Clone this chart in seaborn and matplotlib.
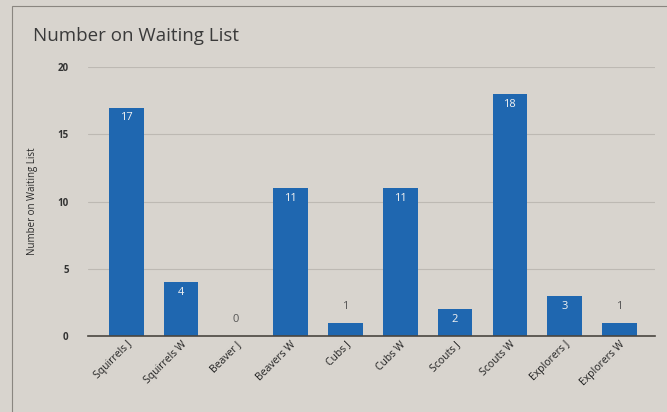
import pandas as pd
import numpy as np
import matplotlib.pyplot as plt
import seaborn as sns
from matplotlib.patches import Rectangle

# data
groups = ["Squirrels J", "Squirrels W", "Beaver J", "Beavers W", "Cubs J",
          "Cubs W", "Scouts J", "Scouts W", "Explorers J", "Explorers W"]
waiting = [17, 4, 0, 11, 1, 11, 2, 18, 3, 1]
y_ticks = [0, 5, 10, 15, 20]

df = pd.DataFrame({"group": groups, "waiting": waiting})

sns.set_theme(style="white")
plt.rcParams['font.family'] = ['Open Sans', 'DejaVu Sans']

paper = "#d8d4ce"
bar_col = "#1f67b0"

fig = plt.figure(figsize=(6.67, 4.12), dpi=100, facecolor=paper)
ax = fig.add_axes([0.132, 0.184, 0.85, 0.653], facecolor=paper)

# chart box border like the printed sheet
fig.patches.append(Rectangle((0.018, -0.05), 1.1, 1.035, transform=fig.transFigure,
                             fill=False, edgecolor="#8a8680", linewidth=0.8))

sns.barplot(data=df, x="group", y="waiting", color=bar_col, width=0.63,
            saturation=1, linewidth=0, ax=ax)

ax.set_ylim(0, 20)
ax.set_yticks(y_ticks)
ax.set_yticklabels([str(t) for t in y_ticks], fontsize=7, fontweight="bold", color="#333333")
ax.yaxis.grid(True, color="#bdb9b3", linewidth=0.8)
ax.set_axisbelow(True)
for s in ["top", "right", "left"]:
    ax.spines[s].set_visible(False)
ax.spines["bottom"].set_color("#4a4640")
ax.spines["bottom"].set_linewidth(1.2)
ax.tick_params(axis="y", length=0, pad=14)
ax.tick_params(axis="x", length=0, pad=2)
ax.set_xlim(-0.7, 9.65)

ax.set_xticks(range(len(groups)))
ax.set_xticklabels(groups, rotation=45, ha="right", rotation_mode="anchor",
                   fontsize=7.5, color="#222222")
ax.set_xlabel("")
ax.set_ylabel("Number on Waiting List", fontsize=7, color="#2a2a2a", labelpad=14)

# value labels
for i, v in enumerate(waiting):
    if v >= 2:
        ax.text(i, v - 0.35, str(v), ha="center", va="top", color="#f2f2f2",
                fontsize=8)
    else:
        ax.text(i, v + 0.8, str(v), ha="center", va="bottom", color="#555555",
                fontsize=8)

fig.text(0.05, 0.9, "Number on Waiting List", fontsize=13.5, color="#3a3a3a")

plt.savefig("out.png", dpi=100, facecolor=paper)
